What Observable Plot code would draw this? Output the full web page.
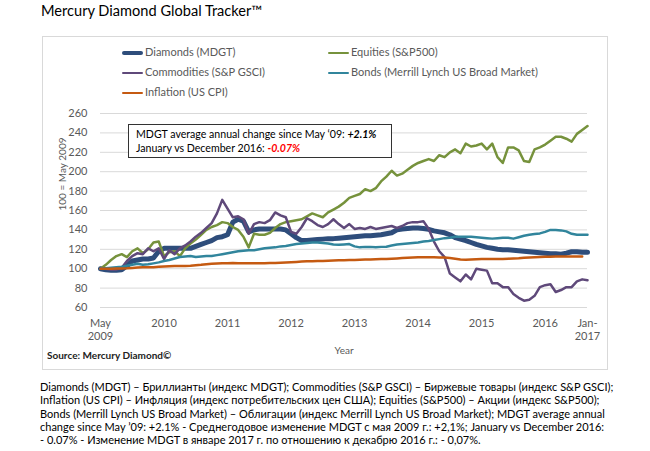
<!DOCTYPE html>
<html>
<head>
<meta charset="utf-8">
<script src="https://cdn.jsdelivr.net/npm/d3@7"></script>
<script src="https://cdn.jsdelivr.net/npm/@observablehq/plot@0.6"></script>
<style>
  html, body { margin: 0; padding: 0; background: #fff; }
  #page { position: relative; width: 650px; height: 451px; overflow: hidden; font-family: Lato, "Noto Sans", sans-serif; }
  #title { position: absolute; left: 41px; top: 2px; font-size: 14.6px; color: #000; white-space: nowrap; }
  #frame { position: absolute; left: 42px; top: 36px; width: 566px; height: 334px; border: 1px solid #d9d9d9; box-sizing: border-box; }
  #chart { position: absolute; left: 0; top: 100px; }
  .leg { position: absolute; font-size: 11px; color: #595959; white-space: nowrap; line-height: 14px; }
  .leg span.sw { display: inline-block; vertical-align: middle; margin-right: 2px; border-radius: 3px; }
  #note { position: absolute; left: 128px; top: 124px; width: 264px; height: 34px; border: 1px solid #333; box-sizing: border-box; background: #fff; font-size: 10.6px; color: #000; line-height: 14px; padding: 2px 0 0 7px; white-space: nowrap; }
  #note b { font-style: italic; }
  #source { position: absolute; left: 47px; top: 349px; font-size: 10px; color: #222; font-weight: bold; white-space: nowrap; }
  #para { position: absolute; left: 40px; top: 380px; font-size: 11px; color: #000; line-height: 13.3px; white-space: nowrap; font-family: Lato, "Noto Sans", sans-serif; }
</style>
</head>
<body>
<div id="page">
  <div id="title">Mercury Diamond Global Tracker™</div>
  <div id="frame"></div>
  <div id="chart"></div>
  <div id="legend"></div>
  <div id="note">MDGT average annual change since May ‘09: <b>+2.1%</b><br>January vs December 2016: <b style="color:#ff0000">-0.07%</b></div>
  <div id="source">Source: Mercury Diamond©</div>
  <div id="para">Diamonds (MDGT) – Бриллианты (индекс MDGT); Commodities (S&amp;P GSCI) – Биржевые товары (индекс S&amp;P GSCI);<br>Inflation (US CPI) – Инфляция (индекс потребительских цен США); Equities (S&amp;P500) – Акции (индекс S&amp;P500);<br>Bonds (Merrill Lynch US Broad Market) – Облигации (индекс Merrill Lynch US Broad Market); MDGT average annual<br>change since May ’09: +2.1% - Среднегодовое изменение MDGT с мая 2009 г.: +2,1%; January vs December 2016:<br>- 0.07% - Изменение MDGT в январе 2017 г. по отношению к декабрю 2016 г.: - 0,07%.</div>
</div>
<script>
// Month index: 0 = May 2009 ... 92 = Jan 2017
const seriesNames = ["Diamonds (MDGT)", "Equities (S&P500)", "Commodities (S&P GSCI)", "Bonds (Merrill Lynch US Broad Market)", "Inflation (US CPI)"];

const diamonds = [100,99,98.5,98.5,99,103,108,109,110,110,111,118,121,121,121,121,121,121,123,125,127,129,132,133,135,148,151,149,138,140,141,141,141,141,141,140,136,132,129,129,129.5,130,130.5,131,131,131.5,132,132.5,133,133.5,134,134,134.5,135,136,137,140,141,141.5,142,142,141.5,140.5,139,138,137,135,132,130.5,129,127,125,123.5,122,121,120,119.5,119.5,119,118.5,118,117.5,117,116.5,116,115.5,115.5,115,116,117.5,117.5,117,117];

const equities = [100,104,109,113,115,112,118,121,116,120,127,128,113,117,118,113,121,126,130,135,140,143,145,148,147,143,140,133,122,136,135,135,137,142,146,148,149,150,151,154,157,155,153,158,161,164,168,173,175,177,182,180,183,190,195,201,196,198,202,206,209,211,213,211,217,215,220,223,219,229,226,227,229,223,229,215,209,225,225,222,211,210,223,225,228,232,236,236,234,231,239,243,247];

const commodities = [100,100,99,99,101,108,113,116,115,121,118,121,110,119,115,121,124,128,133,137,142,147,157,171,162,153,154,151,136,146,148,147,150,158,155,153,138,136,143,152,149,145,143,146,151,146,142,146,141,142,141,143,141,142,143,144,142,144,147,148,148,149,141,128,118,112,95,91,87,94,89,100,99,98,85,85,81,81,74,70,67,68,72,81,83,84,76,78,81,81,87,89,88];

const bonds = [100,100.5,101,101.5,102,103,104,105,104,104.5,105.5,106.5,108,109,110.5,112,112.5,113,112,112.5,113,113,114,115,116,117,118,118.5,119,119,120,121,121.5,122,123,123.5,124.5,125.5,126,126.5,127,127,126.5,126,125,124.7,125,125.4,123,122,122.5,122.5,122,122.5,122.7,124,125,125.5,126,126.5,127,128,128.5,129.5,130.5,131.5,132,133,133,133,133,132.5,132,131.5,131,131.5,132,132,131,132.5,134,135,135.7,136.4,138,140,140,139.5,138.5,136,135,135,135];

const inflation = [100,100,100,100.2,100.3,100.4,100.8,101.2,101.4,101.5,101.6,102,102.2,102.4,102.7,102.7,102.7,103,103.5,104,104.7,105,105.3,105.5,105.7,105.8,105.6,105.5,105.5,105.5,105.5,105.6,105.8,106,106.2,106.5,106.7,107,107.3,107.6,107.8,108,108,108.2,108.4,108.6,108.8,108.9,109,109.2,109.4,109.6,109.8,110,110,110.3,110.6,111,111.3,111.5,111.7,111.7,111.7,111.7,111.6,111.5,111,110.3,109.6,109.3,109.5,109.8,110,110,110,110,110,110.3,110.6,110.8,111.2,111.5,111.7,112,112.2,112.4,112.5,112.6,112.7,112.7,112.7,112.7];

const yTicks = [60,80,100,120,140,160,180,200,220,240,260];
const xTickMonths = [0,12,24,36,48,60,72,84,92];
const xTickLabels = ["May\n2009","2010","2011","2012","2013","2014","2015","2016","Jan-\n2017"];

// styles
const colors = ["#2E4D7B", "#76923C", "#5F497A", "#31859C", "#C55A11"];
const widths = [5, 2.5, 2.5, 2.5, 2.5];
const allValues = [diamonds, equities, commodities, bonds, inflation];

const rows = allValues.map((vals, s) => vals.map((v, m) => ({s, m, v})));

const chart = Plot.plot({
  width: 650,
  height: 265,
  marginLeft: 100,
  marginRight: 63,
  marginTop: 13,
  marginBottom: 58,
  x: {type: "linear", domain: [0, 92]},
  y: {type: "linear", domain: [60, 260]},
  style: {fontFamily: "Lato, 'Noto Sans', sans-serif", fontSize: "11px", color: "#595959", background: "transparent", overflow: "visible"},
  marks: [
    Plot.gridY(yTicks, {stroke: "#d9d9d9", strokeOpacity: 1, strokeWidth: 1}),
    Plot.axisY(yTicks, {tickSize: 0, tickPadding: 13, label: null, fill: "#595959"}),
    Plot.axisX(xTickMonths, {tickSize: 0, tickPadding: 10, label: null, fill: "#595959", lineHeight: 1.2,
      tickFormat: d => xTickLabels[xTickMonths.indexOf(d)]}),
    Plot.text(["100 = May 2009"], {frameAnchor: "left", dx: -38, rotate: -90, fontSize: 10, fill: "#595959"}),
    Plot.text(["Year"], {frameAnchor: "bottom", dy: 46, fontSize: 10, fill: "#595959"}),
    ...rows.map((r, s) => Plot.line(r, {x: "m", y: "v", stroke: colors[s], strokeWidth: widths[s], strokeLinejoin: "round", strokeLinecap: "round"}))
  ]
});
document.getElementById("chart").appendChild(chart);

// legend
const legPos = [[122, 45], [328, 45], [122, 65], [328, 65], [122, 85]];
const legOrder = [0, 1, 2, 3, 4];
const legend = document.getElementById("legend");
legOrder.forEach((s, i) => {
  const d = document.createElement("div");
  d.className = "leg";
  d.style.left = legPos[i][0] + "px";
  d.style.top = legPos[i][1] + "px";
  const sw = document.createElement("span");
  sw.className = "sw";
  sw.style.width = "21px";
  sw.style.height = (s === 0 ? 4 : 2.5) + "px";
  sw.style.background = colors[s];
  d.appendChild(sw);
  d.appendChild(document.createTextNode(seriesNames[s]));
  legend.appendChild(d);
});
</script>
</body>
</html>
